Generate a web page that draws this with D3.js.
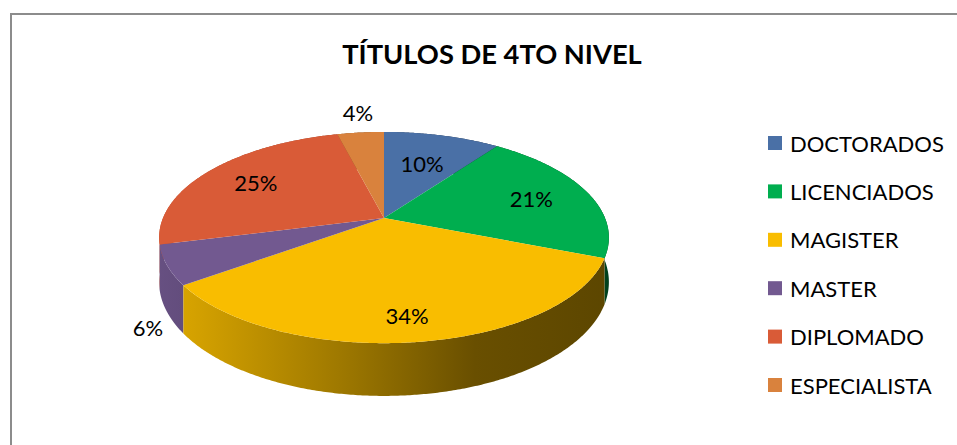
<!DOCTYPE html>
<html><head><meta charset="utf-8">
<script src="https://cdn.jsdelivr.net/npm/d3@7"></script>
<style>html,body{margin:0;padding:0;background:#fff;}svg{display:block;}</style>
</head><body>
<svg id="chart" width="957" height="445"></svg>
<script>
const title = "TÍTULOS DE 4TO NIVEL";
const categories = ["DOCTORADOS","LICENCIADOS","MAGISTER","MASTER","DIPLOMADO","ESPECIALISTA"];
const values = [10,21,34,6,25,4];
const colors = ["#4a70a6","#00ae4f","#f9bd00","#725990","#d95b37","#d9823d"];

const W = 957, H = 445;
const svg = d3.select("#chart");
const font = "Lato, 'Open Sans', sans-serif";

// chart frame
svg.append("rect").attr("x",11).attr("y",14).attr("width",W+20).attr("height",H+20)
  .attr("fill","#fff").attr("stroke","#8c8c8c").attr("stroke-width",2);

svg.append("text").attr("x",492).attr("y",64).attr("text-anchor","middle")
  .attr("font-family",font).attr("font-weight","bold").attr("font-size",27.3)
  .attr("fill","#000").text(title);

// 3D pie geometry
const cx = 384, cy = 218, R = 221, RY = 102, K = 0.185, DEPTH = 43;
function proj(a, f, d){
  const u = f*Math.sin(a), v = f*Math.cos(a);
  const s = 1/(1+K*v);
  return [cx + R*u*s, cy - RY*v*s + DEPTH*d*s];
}
function rim(a0, a1, d){
  const n = Math.max(2, Math.ceil((a1-a0)/(Math.PI/360)));
  const pts = [];
  for(let i=0;i<=n;i++){ const a = a0+(a1-a0)*i/n; pts.push(proj(a,1,d)); }
  return pts;
}
const total = d3.sum(values);
const pie = d3.pie().sort(null).value(d=>d);
const arcs = pie(values);

const defs = svg.append("defs");
arcs.forEach((d,i)=>{
  const base = d3.color(colors[i]);
  const g = defs.append("linearGradient").attr("id","side"+i)
    .attr("gradientUnits","userSpaceOnUse")
    .attr("x1",cx-R*1.03).attr("x2",cx+R*1.03).attr("y1",0).attr("y2",0);
  [[0,0.9],[0.1,0.84],[0.4,0.64],[0.7,0.42],[1,0.37]].forEach(([o,f])=>{
    const c = d3.rgb(base.r*f, base.g*f, base.b*f);
    g.append("stop").attr("offset",o).attr("stop-color",c.formatHex());
  });
});

const line = d3.line();
// side walls (back to front)
const walls = arcs.map((d,i)=>({d,i,v:Math.cos((d.startAngle+d.endAngle)/2)}))
  .sort((a,b)=>b.v-a.v);
svg.append("g").selectAll("path").data(walls).join("path")
  .attr("d",w=>{
    const top = rim(w.d.startAngle,w.d.endAngle,0);
    const bot = rim(w.d.startAngle,w.d.endAngle,1).reverse();
    return line(top.concat(bot))+"Z";
  })
  .attr("fill",w=>`url(#side${w.i})`);

// top faces
svg.append("g").selectAll("path").data(arcs).join("path")
  .attr("d",d=>line([[cx,cy]].concat(rim(d.startAngle,d.endAngle,0)))+"Z")
  .attr("fill",(d,i)=>colors[i]);

// labels
svg.append("g").selectAll("text").data(arcs).join("text")
  .attr("font-family",font).attr("font-size",22).attr("fill","#000")
  .attr("text-anchor","middle").attr("dominant-baseline","central")
  .attr("transform",d=>{
    const a = (d.startAngle+d.endAngle)/2;
    const ux = Math.sin(a), vy = Math.cos(a);
    const pct = d.value/total;
    let p;
    if(pct < 0.08){
      const front = vy < 0;
      const q = proj(a,1,front?1:0);
      p = [q[0] + ux*21, q[1] - vy*(front?36:20)];
    } else {
      const f = vy > 0.8 ? 0.62 : 0.72;
      p = proj(a,f,0.28*Math.max(0,-vy));
    }
    return `translate(${p[0]},${p[1]})`;
  })
  .text(d=>Math.round(d.value/total*100)+"%");

// legend
const leg = svg.append("g").selectAll("g").data(categories).join("g")
  .attr("transform",(d,i)=>`translate(768,${143+i*48.4})`);
leg.append("rect").attr("x",0).attr("y",-7).attr("width",14).attr("height",14)
  .attr("fill",(d,i)=>colors[i]);
leg.append("text").attr("x",22).attr("y",0).attr("dominant-baseline","central")
  .attr("font-family",font).attr("font-size",22).attr("fill","#000").text(d=>d);
</script>
</body></html>
